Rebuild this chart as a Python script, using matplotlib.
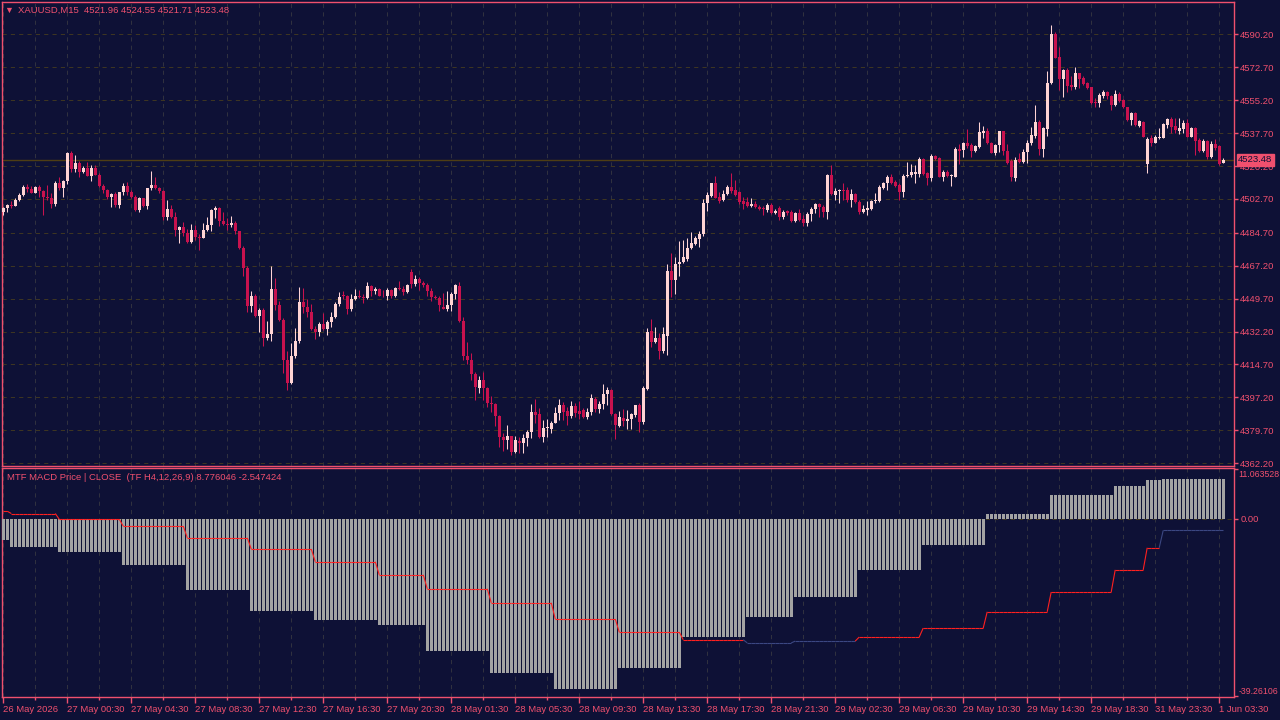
import numpy as np
import matplotlib.pyplot as plt
from matplotlib.collections import LineCollection
from matplotlib.transforms import blended_transform_factory

plt.rcParams['font.family'] = ['Liberation Sans', 'DejaVu Sans']

# XAUUSD M15 candles (open, high, low, close)
opens = [
    4496.0, 4497.8, 4499.5, 4499.0, 4502.2, 4504.8, 4509.2, 4507.8, 4506.1, 4509.2,
    4507.1, 4503.9, 4503.1, 4500.1, 4511.4, 4508.7, 4512.3, 4527.1, 4518.8, 4521.8,
    4517.0, 4519.1, 4515.1, 4519.1, 4515.6, 4509.8, 4507.5, 4503.6, 4505.2, 4499.5,
    4506.2, 4509.6, 4506.4, 4503.9, 4496.9, 4503.1, 4499.0, 4508.4, 4510.1, 4508.4,
    4507.0, 4493.0, 4497.4, 4493.0, 4486.3, 4488.0, 4484.5, 4479.9, 4486.3, 4482.7,
    4482.0, 4486.3, 4488.9, 4496.9, 4497.9, 4491.2, 4489.4, 4488.6, 4489.8, 4485.4,
    4476.7, 4465.8, 4445.6, 4451.3, 4440.6, 4443.8, 4428.5, 4431.1, 4455.0, 4446.5,
    4438.5, 4416.8, 4404.8, 4419.4, 4427.4, 4448.1, 4445.1, 4442.8, 4433.8, 4431.8,
    4436.4, 4433.8, 4437.1, 4440.1, 4447.0, 4451.4, 4450.9, 4444.0, 4449.7, 4451.3,
    4450.6, 4449.8, 4456.2, 4453.6, 4455.0, 4451.3, 4450.9, 4454.1, 4450.9, 4455.5,
    4455.0, 4453.4, 4463.9, 4457.5, 4460.1, 4458.2, 4456.9, 4453.8, 4450.7, 4450.2,
    4445.3, 4444.4, 4446.3, 4452.2, 4456.4, 4437.8, 4419.2, 4417.1, 4409.8, 4402.0,
    4406.4, 4402.0, 4394.4, 4393.7, 4387.3, 4376.3, 4374.5, 4376.7, 4368.0, 4374.0,
    4373.1, 4375.4, 4379.0, 4389.3, 4388.4, 4376.3, 4381.1, 4380.6, 4383.8, 4388.9,
    4393.2, 4390.1, 4387.5, 4392.6, 4390.1, 4390.5, 4386.6, 4389.3, 4396.5, 4391.2,
    4393.7, 4399.0, 4401.1, 4388.4, 4382.0, 4386.4, 4384.7, 4385.5, 4387.8, 4393.0,
    4384.1, 4401.8, 4432.3, 4426.8, 4428.8, 4421.7, 4430.0, 4464.4, 4459.6, 4467.9,
    4469.0, 4470.8, 4476.4, 4478.7, 4481.6, 4484.1, 4500.5, 4504.3, 4511.0, 4503.7,
    4502.1, 4505.1, 4508.9, 4507.5, 4506.4, 4501.4, 4501.1, 4499.1, 4500.2, 4498.6,
    4498.1, 4496.8, 4499.6, 4495.0, 4497.9, 4493.3, 4496.1, 4495.9, 4491.1, 4495.4,
    4491.9, 4489.7, 4494.7, 4497.2, 4500.2, 4498.2, 4495.7, 4515.4, 4505.0, 4506.9,
    4507.0, 4507.4, 4502.1, 4505.3, 4501.0, 4495.7, 4496.8, 4497.5, 4501.8, 4501.6,
    4508.7, 4511.0, 4514.5, 4511.9, 4510.1, 4506.5, 4514.9, 4515.4, 4515.9, 4516.0,
    4523.7, 4516.6, 4513.6, 4525.5, 4524.4, 4514.5, 4517.0, 4514.9, 4514.5, 4529.0,
    4528.7, 4532.6, 4531.2, 4528.2, 4530.5, 4537.6, 4538.8, 4532.2, 4527.3, 4531.4,
    4538.8, 4528.2, 4523.0, 4513.8, 4523.7, 4522.5, 4527.5, 4532.2, 4536.1, 4543.6,
    4529.0, 4540.0, 4564.1, 4590.4, 4578.1, 4566.4, 4571.2, 4563.2, 4562.0, 4569.4,
    4566.8, 4564.1, 4562.0, 4554.4, 4553.5, 4557.4, 4559.7, 4557.4, 4552.6, 4558.5,
    4555.3, 4551.4, 4544.6, 4548.5, 4541.5, 4543.8, 4521.2, 4534.9, 4532.6, 4535.3,
    4535.3, 4542.0, 4545.2, 4541.5, 4538.8, 4540.0, 4542.9, 4535.8, 4540.6, 4534.0,
    4528.1, 4533.7, 4524.8, 4531.9, 4530.8, 4521.96,
]
highs = [
    4498.6, 4499.9, 4501.6, 4503.0, 4506.1, 4510.1, 4510.7, 4509.8, 4509.6, 4510.1,
    4507.5, 4510.1, 4506.1, 4512.1, 4514.2, 4512.8, 4527.5, 4528.2, 4526.0, 4523.0,
    4520.2, 4522.3, 4520.7, 4520.6, 4516.3, 4510.7, 4508.2, 4505.7, 4506.6, 4506.6,
    4511.0, 4511.9, 4507.5, 4504.7, 4503.6, 4503.4, 4508.7, 4517.4, 4514.2, 4509.2,
    4507.5, 4502.2, 4499.3, 4495.5, 4488.4, 4490.2, 4486.6, 4489.4, 4488.9, 4484.1,
    4489.8, 4493.0, 4497.2, 4499.0, 4498.3, 4495.5, 4492.5, 4493.7, 4490.7, 4485.9,
    4477.8, 4466.8, 4453.9, 4452.1, 4444.7, 4444.9, 4437.6, 4467.2, 4460.8, 4448.4,
    4439.4, 4421.9, 4426.2, 4434.1, 4456.0, 4455.5, 4449.5, 4447.0, 4435.0, 4437.1,
    4442.1, 4438.5, 4442.4, 4447.9, 4453.2, 4453.6, 4451.6, 4452.3, 4455.0, 4454.4,
    4452.3, 4458.5, 4456.9, 4455.7, 4455.3, 4454.1, 4455.5, 4454.8, 4455.9, 4459.2,
    4456.6, 4457.3, 4465.5, 4462.3, 4461.4, 4459.3, 4458.2, 4455.2, 4451.6, 4451.1,
    4452.5, 4453.8, 4453.4, 4457.5, 4458.5, 4440.1, 4426.6, 4421.0, 4410.7, 4408.6,
    4410.7, 4402.9, 4397.9, 4394.2, 4387.8, 4378.1, 4382.4, 4376.9, 4376.7, 4376.3,
    4377.7, 4379.9, 4393.7, 4396.3, 4391.4, 4385.2, 4385.5, 4384.8, 4392.3, 4396.3,
    4394.6, 4392.3, 4395.1, 4394.0, 4395.3, 4391.4, 4391.6, 4399.0, 4397.6, 4395.5,
    4404.3, 4402.5, 4401.8, 4389.1, 4389.9, 4391.2, 4390.5, 4389.1, 4393.3, 4394.0,
    4403.3, 4433.9, 4438.7, 4434.4, 4431.3, 4434.8, 4467.9, 4473.8, 4472.0, 4480.5,
    4480.9, 4481.8, 4485.1, 4483.0, 4485.7, 4502.8, 4506.4, 4511.3, 4514.9, 4506.6,
    4507.5, 4509.9, 4516.3, 4512.8, 4506.7, 4503.6, 4503.6, 4503.0, 4501.4, 4499.3,
    4499.1, 4500.5, 4500.4, 4497.2, 4498.9, 4496.8, 4496.8, 4496.8, 4495.9, 4497.5,
    4494.2, 4495.9, 4498.6, 4500.7, 4500.7, 4499.5, 4515.8, 4520.7, 4508.3, 4508.0,
    4511.0, 4508.8, 4507.8, 4505.7, 4502.1, 4499.5, 4501.8, 4502.1, 4505.7, 4509.9,
    4511.7, 4515.2, 4516.0, 4512.7, 4511.3, 4515.9, 4522.3, 4521.2, 4520.7, 4524.8,
    4524.3, 4517.2, 4526.6, 4526.2, 4525.1, 4518.1, 4518.1, 4515.9, 4530.5, 4531.9,
    4533.1, 4539.7, 4532.2, 4531.5, 4543.6, 4541.5, 4540.2, 4532.8, 4531.9, 4539.0,
    4539.0, 4531.9, 4523.7, 4524.8, 4527.3, 4529.0, 4534.0, 4540.7, 4552.6, 4544.6,
    4541.1, 4570.7, 4595.1, 4591.4, 4583.6, 4571.8, 4572.5, 4568.0, 4573.0, 4569.8,
    4568.0, 4565.0, 4562.4, 4556.2, 4558.8, 4560.6, 4560.2, 4557.9, 4560.6, 4559.7,
    4556.0, 4551.7, 4549.1, 4548.9, 4544.6, 4544.1, 4535.8, 4536.7, 4536.7, 4540.6,
    4542.9, 4545.5, 4546.1, 4545.5, 4545.9, 4544.6, 4545.2, 4541.1, 4541.1, 4534.9,
    4534.4, 4534.0, 4533.7, 4534.5, 4531.2, 4524.55,
]
lows = [
    4494.2, 4496.0, 4497.8, 4498.8, 4501.6, 4504.5, 4506.6, 4505.7, 4505.7, 4503.6,
    4494.4, 4502.2, 4497.8, 4499.2, 4507.5, 4503.9, 4510.8, 4517.0, 4517.2, 4514.2,
    4516.3, 4514.9, 4512.4, 4515.3, 4509.2, 4506.1, 4502.5, 4498.6, 4498.6, 4498.1,
    4504.8, 4504.8, 4503.1, 4496.3, 4495.5, 4498.6, 4497.6, 4507.5, 4508.0, 4506.1,
    4491.6, 4491.6, 4492.6, 4483.1, 4479.5, 4483.1, 4479.5, 4479.5, 4481.0, 4475.3,
    4481.7, 4485.6, 4485.4, 4492.4, 4488.4, 4488.9, 4486.3, 4487.7, 4484.1, 4476.0,
    4461.5, 4442.4, 4442.8, 4439.9, 4432.2, 4424.4, 4427.9, 4427.4, 4443.8, 4438.0,
    4410.2, 4401.0, 4404.1, 4418.2, 4426.2, 4442.1, 4439.8, 4433.2, 4428.3, 4429.7,
    4433.2, 4430.6, 4434.6, 4439.4, 4445.6, 4449.5, 4441.7, 4443.0, 4449.1, 4449.8,
    4447.4, 4449.5, 4450.9, 4452.3, 4450.9, 4450.4, 4449.1, 4449.8, 4450.6, 4454.4,
    4451.8, 4452.7, 4455.2, 4456.4, 4454.3, 4456.1, 4451.1, 4448.6, 4449.3, 4443.3,
    4444.2, 4443.3, 4443.3, 4449.7, 4437.5, 4417.1, 4414.8, 4406.4, 4396.0, 4399.4,
    4395.8, 4392.3, 4389.4, 4382.2, 4371.0, 4368.9, 4369.6, 4366.6, 4367.5, 4367.5,
    4367.5, 4371.4, 4375.4, 4383.4, 4375.4, 4373.7, 4376.0, 4378.4, 4383.4, 4385.2,
    4385.2, 4382.5, 4386.1, 4386.6, 4385.5, 4386.1, 4385.9, 4387.8, 4389.4, 4389.1,
    4391.2, 4393.2, 4387.7, 4374.9, 4381.3, 4382.0, 4380.6, 4380.6, 4387.0, 4379.0,
    4383.1, 4401.1, 4424.2, 4425.9, 4417.8, 4421.0, 4419.9, 4450.7, 4452.2, 4461.7,
    4468.5, 4469.7, 4476.0, 4478.2, 4477.3, 4483.0, 4496.5, 4503.9, 4503.0, 4500.7,
    4501.8, 4504.6, 4505.7, 4504.3, 4499.8, 4497.5, 4498.2, 4498.6, 4497.7, 4496.8,
    4494.2, 4495.9, 4494.5, 4494.5, 4491.5, 4492.0, 4494.2, 4490.6, 4490.4, 4491.0,
    4488.5, 4488.5, 4491.1, 4495.0, 4492.9, 4493.3, 4492.0, 4504.8, 4502.1, 4500.7,
    4502.1, 4501.2, 4498.2, 4500.7, 4494.7, 4495.0, 4494.3, 4496.8, 4500.7, 4501.0,
    4508.1, 4507.4, 4510.6, 4509.2, 4502.1, 4503.9, 4514.5, 4514.5, 4511.0, 4514.5,
    4515.4, 4510.1, 4512.4, 4523.4, 4514.2, 4512.4, 4514.2, 4509.6, 4514.2, 4521.2,
    4524.8, 4529.6, 4525.1, 4527.8, 4529.9, 4534.9, 4531.9, 4526.9, 4526.0, 4527.8,
    4526.2, 4521.2, 4512.4, 4512.4, 4521.6, 4521.6, 4522.0, 4531.4, 4535.2, 4526.0,
    4525.1, 4536.1, 4563.8, 4577.4, 4560.6, 4557.0, 4559.7, 4560.6, 4561.3, 4561.5,
    4563.2, 4561.0, 4553.1, 4551.4, 4551.4, 4556.5, 4555.6, 4550.0, 4552.1, 4554.4,
    4550.8, 4544.3, 4542.0, 4541.5, 4541.1, 4535.4, 4516.3, 4530.8, 4532.2, 4534.5,
    4534.9, 4540.2, 4537.6, 4537.6, 4537.0, 4537.6, 4535.4, 4535.4, 4526.0, 4527.8,
    4527.8, 4523.7, 4524.3, 4528.7, 4520.8, 4521.71,
]
closes = [
    4497.8, 4499.5, 4499.0, 4502.2, 4504.8, 4509.2, 4507.8, 4506.1, 4509.2, 4507.1,
    4503.9, 4503.1, 4500.1, 4511.4, 4508.7, 4512.3, 4527.1, 4518.8, 4521.8, 4517.0,
    4519.1, 4515.1, 4519.1, 4515.6, 4509.8, 4507.5, 4503.6, 4505.2, 4499.5, 4506.2,
    4509.6, 4506.4, 4503.9, 4496.9, 4503.1, 4499.0, 4508.4, 4510.1, 4508.4, 4507.0,
    4493.0, 4497.4, 4493.0, 4486.3, 4488.0, 4484.5, 4479.9, 4486.3, 4482.7, 4482.0,
    4486.3, 4488.9, 4496.9, 4497.9, 4491.2, 4489.4, 4488.6, 4489.8, 4485.4, 4476.7,
    4465.8, 4445.6, 4451.3, 4440.6, 4443.8, 4428.5, 4431.1, 4455.0, 4446.5, 4438.5,
    4416.8, 4404.8, 4419.4, 4427.4, 4448.1, 4445.1, 4442.8, 4433.8, 4431.8, 4436.4,
    4433.8, 4437.1, 4440.1, 4447.0, 4450.5, 4450.9, 4444.0, 4449.7, 4451.3, 4450.6,
    4449.8, 4456.2, 4453.6, 4455.0, 4451.3, 4450.9, 4454.1, 4450.9, 4455.5, 4455.0,
    4453.4, 4456.7, 4457.5, 4460.1, 4458.2, 4456.9, 4453.8, 4450.7, 4450.2, 4446.3,
    4444.4, 4446.3, 4452.2, 4456.9, 4437.8, 4419.2, 4417.1, 4409.8, 4402.7, 4406.4,
    4402.0, 4394.4, 4393.7, 4387.3, 4376.3, 4374.5, 4376.7, 4368.4, 4374.5, 4373.1,
    4375.6, 4379.0, 4389.4, 4387.8, 4376.3, 4381.1, 4381.4, 4383.8, 4388.9, 4393.2,
    4389.6, 4387.5, 4392.6, 4389.1, 4388.4, 4387.0, 4389.4, 4396.9, 4391.2, 4393.7,
    4399.0, 4401.1, 4388.4, 4382.5, 4386.9, 4384.7, 4385.7, 4388.4, 4393.0, 4384.1,
    4402.2, 4432.1, 4426.8, 4428.8, 4421.9, 4430.9, 4464.4, 4459.6, 4468.1, 4469.4,
    4471.8, 4476.4, 4479.1, 4481.9, 4484.1, 4500.7, 4504.6, 4511.0, 4503.4, 4501.8,
    4505.3, 4508.9, 4507.1, 4505.0, 4501.1, 4500.0, 4498.9, 4500.2, 4498.6, 4497.5,
    4497.2, 4499.6, 4495.4, 4496.5, 4493.3, 4495.9, 4495.4, 4491.1, 4495.4, 4491.5,
    4489.7, 4494.7, 4497.4, 4500.2, 4498.2, 4495.7, 4515.4, 4505.3, 4506.9, 4507.0,
    4506.9, 4502.1, 4505.3, 4501.0, 4495.7, 4497.3, 4498.0, 4501.8, 4502.1, 4509.2,
    4511.3, 4514.5, 4511.3, 4509.6, 4506.5, 4514.9, 4515.6, 4516.8, 4517.0, 4523.7,
    4515.9, 4513.6, 4525.5, 4524.1, 4514.5, 4516.8, 4514.9, 4515.4, 4529.0, 4528.2,
    4532.6, 4530.8, 4528.2, 4531.0, 4538.3, 4538.8, 4532.2, 4527.3, 4531.4, 4538.8,
    4528.2, 4521.6, 4514.5, 4523.4, 4522.5, 4527.8, 4532.6, 4536.5, 4543.6, 4529.0,
    4540.4, 4564.5, 4590.4, 4577.8, 4566.4, 4571.2, 4562.9, 4562.0, 4569.4, 4566.4,
    4563.8, 4561.5, 4553.9, 4553.5, 4557.9, 4559.7, 4557.4, 4552.6, 4558.5, 4554.9,
    4551.4, 4544.6, 4548.5, 4542.0, 4544.1, 4535.8, 4534.5, 4532.6, 4535.8, 4535.8,
    4542.5, 4545.2, 4541.1, 4539.3, 4540.6, 4543.2, 4535.8, 4540.6, 4533.7, 4528.3,
    4533.7, 4525.1, 4531.9, 4529.6, 4521.2, 4523.48,
]

# MTF MACD (H4) values, one entry per H4 bar; seg_len = number of M15 bars in it
seg_len = [2, 12, 16, 16, 16, 16, 16, 12, 16, 16, 16, 16, 16, 12, 16, 16, 16, 16, 16, 8, 4, 16]
hist_h4 = [-4.7, -6.2, -7.3, -10.2, -15.7, -20.4, -22.4, -23.5, -29.3, -34.1, -37.7,
           -33.0, -26.2, -21.7, -17.3, -11.3, -5.8, 1.2, 5.3, 7.3, 8.6, 8.776046]
signal_h4 = [1.7, 1.2, -0.1, -1.6, -4.2, -6.7, -9.5, -12.4, -15.5, -18.6, -22.2,
             -25.1, -26.8, -27.5, -27.1, -26.2, -24.2, -20.6, -16.2, -11.3, -6.4, -2.547424]
signal_dark = [0, 0, 0, 0, 0, 0, 0, 0, 0, 0, 0, 0, 0, 1, 1, 0, 0, 0, 0, 0, 0, 1]
macd_max = 11.063528
macd_min = -39.26106

price_ticks = [4590.20, 4572.70, 4555.20, 4537.70, 4520.20, 4502.70, 4484.70,
               4467.20, 4449.70, 4432.20, 4414.70, 4397.20, 4379.70, 4362.20]
time_labels = ["26 May 2026", "27 May 00:30", "27 May 04:30", "27 May 08:30",
               "27 May 12:30", "27 May 16:30", "27 May 20:30", "28 May 01:30",
               "28 May 05:30", "28 May 09:30", "28 May 13:30", "28 May 17:30",
               "28 May 21:30", "29 May 02:30", "29 May 06:30", "29 May 10:30",
               "29 May 14:30", "29 May 18:30", "31 May 23:30", "1 Jun 03:30"]
last_price = 4523.48

BG = '#0e1136'
FG = '#f0506e'
BULL = '#ffd4d4'
BEAR = '#c8124e'
GRID_H = '#3d3522'
GRID_V = '#30313f'
FS = 6.8

o = np.array(opens); h = np.array(highs); l = np.array(lows); c = np.array(closes)
n = len(c)
x = np.arange(n)

fig = plt.figure(figsize=(12.8, 7.2), dpi=100, facecolor=BG)
ax = fig.add_axes([2 / 1280, 254 / 720, 1232 / 1280, 464 / 720], facecolor=BG)
ax2 = fig.add_axes([2 / 1280, 23 / 720, 1232 / 1280, 229 / 720], facecolor=BG)

# candles
up = c >= o
cols = np.where(up, BULL, BEAR)
ax.vlines(x, l, h, colors=cols, lw=0.75, zorder=3)
ax.bar(x, np.maximum(np.abs(c - o), 0.4), bottom=np.minimum(o, c), width=0.72,
       color=cols, lw=0, zorder=4)
ax.axhline(last_price, color='#4e3e14', lw=1, zorder=2)

ax.set_xlim(-0.33, 307.7)
ax.set_ylim(4360.7, 4607.4)
ax.set_yticks(price_ticks)
ax.set_yticklabels([f"{p:.2f}" for p in price_ticks])

# MACD pane
hist = np.repeat(hist_h4, seg_len)
sig = np.repeat(signal_h4, seg_len)
dark = np.repeat(signal_dark, seg_len)
ax2.bar(x, hist, width=0.72, color='#a3a3a3', lw=0, zorder=3)
segs = [[(i - 1, sig[i - 1]), (i, sig[i])] for i in range(1, n)]
seg_cols = ['#3b4782' if dark[i] else '#ff2020' for i in range(1, n)]
ax2.add_collection(LineCollection(segs, colors=seg_cols, lw=0.8, zorder=4))
ax2.axhline(0, color=GRID_H, lw=0.75, ls=(0, (4, 4)), zorder=1)
ax2.set_xlim(-0.33, 307.7)
ax2.set_ylim(-39.5, 11.3)
ax2.set_yticks([macd_max, 0, macd_min])
ax2.set_yticklabels(['', '0.00', ''])

# extreme labels of the MACD scale sit inside the pane
tr = blended_transform_factory(ax2.transAxes, ax2.transData)
ax2.annotate(f"{macd_max:.6f}", xy=(1, macd_max), xycoords=tr, xytext=(3, -1),
             textcoords='offset points', ha='left', va='top', fontsize=6.3,
             color=FG, annotation_clip=False)
ax2.annotate(f"{macd_min:.5f}", xy=(1, macd_min), xycoords=tr, xytext=(3, 0),
             textcoords='offset points', ha='left', va='bottom', fontsize=6.3,
             color=FG, annotation_clip=False)

for a in (ax, ax2):
    a.set_xticks(np.arange(0, n, 16))
    a.set_xticks(np.arange(8, n, 16), minor=True)
    a.grid(axis='x', which='both', color=GRID_V, lw=0.75, ls=(0, (4, 4)), zorder=1)
    a.yaxis.tick_right()
    a.tick_params(axis='y', colors=FG, labelsize=FS, length=3, width=1, pad=1.5)
    for s in a.spines.values():
        s.set_color(FG)
        s.set_linewidth(1)
ax.grid(axis='y', color=GRID_H, lw=0.75, ls=(0, (4, 4)), zorder=1)
ax.tick_params(axis='x', which='both', length=0, labelbottom=False)

ax2.set_xticklabels(time_labels, ha='left')
ax2.tick_params(axis='x', which='major', colors=FG, labelsize=FS, length=4, width=1, pad=2)
ax2.tick_params(axis='x', which='minor', colors=FG, length=2, width=1)

# current price tag on the scale
ax.annotate(f"{last_price:.2f}", xy=(1, last_price), xycoords=('axes fraction', 'data'),
            xytext=(3, 0), textcoords='offset points', ha='left', va='center',
            fontsize=FS, color=BG, zorder=10, annotation_clip=False,
            bbox=dict(boxstyle='square,pad=0.15', fc=FG, ec=FG))

fig.text(9 / 1280, 1 - 10 / 720, '▼', color=FG, fontsize=6.5, ha='center', va='center')
fig.text(18 / 1280, 1 - 10 / 720, 'XAUUSD,M15  4521.96 4524.55 4521.71 4523.48',
         color=FG, fontsize=FS, va='center')
fig.text(7 / 1280, 1 - 477 / 720,
         'MTF MACD Price | CLOSE  (TF H4,12,26,9) 8.776046 -2.547424',
         color=FG, fontsize=FS, va='center')

plt.savefig('out.png', dpi=100, facecolor=BG)
